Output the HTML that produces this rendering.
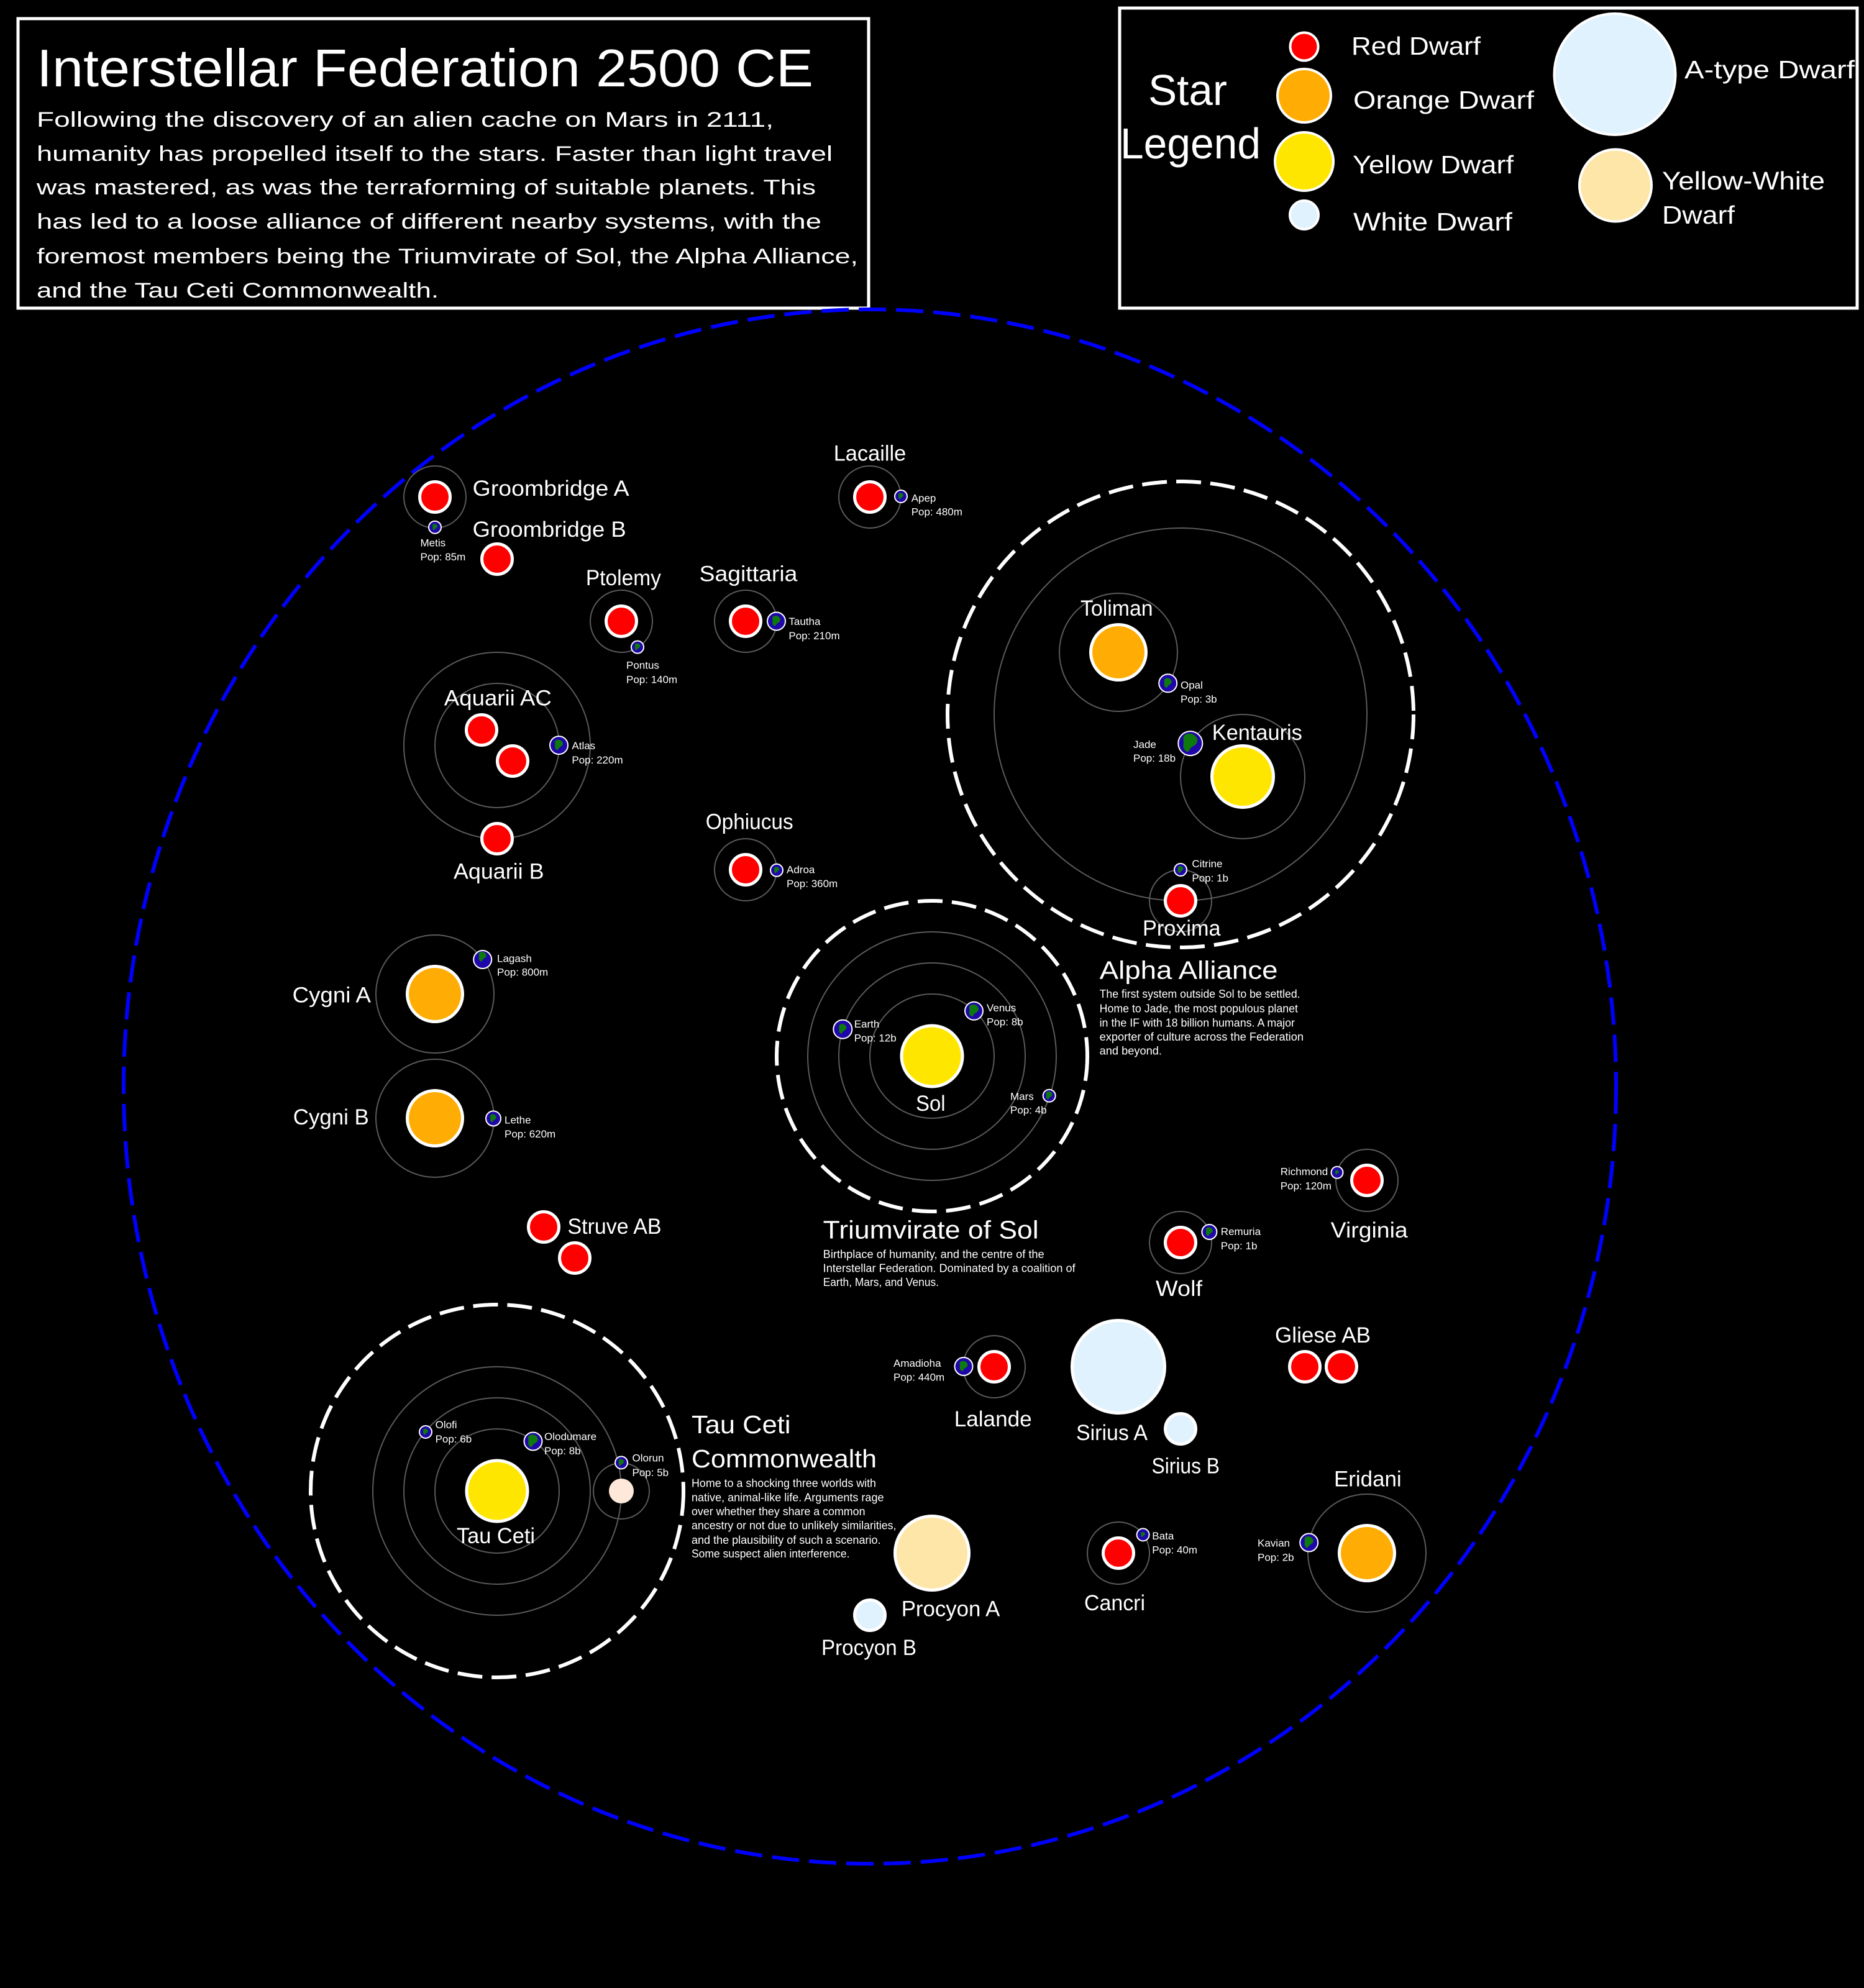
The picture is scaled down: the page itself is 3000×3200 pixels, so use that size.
<!DOCTYPE html>
<html>
<head>
<meta charset="utf-8">
<style>
  html, body { margin: 0; padding: 0; background: #000; }
  svg { display: block; }
  text { font-family: "Liberation Sans", "DejaVu Sans", sans-serif; fill: #fff; }
  .t { font-size: 35px; }
  .p { font-size: 17px; }
  .d { font-size: 18px; }
  .h { font-size: 41px; }
  .orb { fill: none; stroke: #5a5a5a; stroke-width: 2; }
  .st { stroke: #fff; stroke-width: 5; }
  .red { fill: #ff0000; }
  .org { fill: #ffad05; }
  .yel { fill: #ffe600; }
  .wht { fill: #e0f2fe; }
  .yw { fill: #fde6a8; }
  .pl { fill: #1f06a8; stroke: #fff; stroke-width: 2; }
  .gr { fill: #0c7a0c; }
</style>
</head>
<body>
<svg width="3000" height="3200" viewBox="0 0 3000 3200" xmlns="http://www.w3.org/2000/svg">
  <defs>
    <path id="blob" d="M-5,-9 C1,-12 8,-7 7,-2 C6,3 1,2 -1,7 C-3,11 -8,6 -7,1 C-6,-3 -9,-6 -5,-9 Z"/>
  </defs>
  <rect x="0" y="0" width="3000" height="3200" fill="#000"/>

  <!-- Title box -->
  <rect x="29" y="30" width="1369" height="466" fill="none" stroke="#fff" stroke-width="5"/>
  <text x="59" y="139" font-size="85" textLength="1250" lengthAdjust="spacingAndGlyphs">Interstellar Federation 2500 CE</text>
  <text x="59" y="204" font-size="34" textLength="1186" lengthAdjust="spacingAndGlyphs">Following the discovery of an alien cache on Mars in 2111,</text>
  <text x="59" y="259" font-size="34" textLength="1281" lengthAdjust="spacingAndGlyphs">humanity has propelled itself to the stars. Faster than light travel</text>
  <text x="59" y="313" font-size="34" textLength="1254" lengthAdjust="spacingAndGlyphs">was mastered, as was the terraforming of suitable planets. This</text>
  <text x="59" y="368" font-size="34" textLength="1263" lengthAdjust="spacingAndGlyphs">has led to a loose alliance of different nearby systems, with the</text>
  <text x="59" y="424" font-size="34" textLength="1322" lengthAdjust="spacingAndGlyphs">foremost members being the Triumvirate of Sol, the Alpha Alliance,</text>
  <text x="59" y="479" font-size="34" textLength="647" lengthAdjust="spacingAndGlyphs">and the Tau Ceti Commonwealth.</text>

  <!-- Legend box -->
  <rect x="1802" y="13" width="1187" height="483" fill="none" stroke="#fff" stroke-width="5"/>
  <text x="1848" y="169" font-size="70" textLength="127" lengthAdjust="spacingAndGlyphs">Star</text>
  <text x="1803" y="255" font-size="70" textLength="226" lengthAdjust="spacingAndGlyphs">Legend</text>
  <circle cx="2099" cy="75" r="22.5" class="red" stroke="#fff" stroke-width="4"/>
  <circle cx="2099" cy="154" r="43" class="org" stroke="#fff" stroke-width="4"/>
  <circle cx="2099" cy="260" r="47" class="yel" stroke="#fff" stroke-width="4"/>
  <circle cx="2099" cy="346" r="23" class="wht" stroke="#fff" stroke-width="4"/>
  <circle cx="2599" cy="119.5" r="97.5" class="wht" stroke="#fff" stroke-width="4"/>
  <circle cx="2600" cy="298.5" r="58" class="yw" stroke="#fff" stroke-width="4"/>
  <text x="2175" y="88" font-size="41" textLength="208" lengthAdjust="spacingAndGlyphs">Red Dwarf</text>
  <text x="2178" y="175" font-size="41" textLength="291" lengthAdjust="spacingAndGlyphs">Orange Dwarf</text>
  <text x="2177" y="279" font-size="41" textLength="259" lengthAdjust="spacingAndGlyphs">Yellow Dwarf</text>
  <text x="2178" y="371" font-size="41" textLength="256" lengthAdjust="spacingAndGlyphs">White Dwarf</text>
  <text x="2711" y="126" font-size="41" textLength="274" lengthAdjust="spacingAndGlyphs">A-type Dwarf</text>
  <text x="2675" y="305" font-size="41" textLength="262" lengthAdjust="spacingAndGlyphs">Yellow-White</text>
  <text x="2675" y="360" font-size="41" textLength="117" lengthAdjust="spacingAndGlyphs">Dwarf</text>

  <!-- Federation boundary -->
  <ellipse cx="1400" cy="1749" rx="1201" ry="1251" fill="none" stroke="#0000ff" stroke-width="6" stroke-dasharray="44 16"/>

  <!-- Alliance dashed circles -->
  <circle cx="1900" cy="1150" r="375" fill="none" stroke="#fff" stroke-width="6" stroke-dasharray="40 15"/>
  <circle cx="1500" cy="1700" r="250" fill="none" stroke="#fff" stroke-width="6" stroke-dasharray="40 15"/>
  <circle cx="800" cy="2400" r="300" fill="none" stroke="#fff" stroke-width="6" stroke-dasharray="40 15"/>

  <!-- Orbits -->
  <circle class="orb" cx="700" cy="800" r="50"/>
  <circle class="orb" cx="1400" cy="800" r="50"/>
  <circle class="orb" cx="1000" cy="1000" r="50"/>
  <circle class="orb" cx="1200" cy="1000" r="50"/>
  <circle class="orb" cx="800" cy="1200" r="100"/>
  <circle class="orb" cx="800" cy="1200" r="150"/>
  <circle class="orb" cx="1200" cy="1400" r="50"/>
  <circle class="orb" cx="1900" cy="1150" r="300"/>
  <circle class="orb" cx="1800" cy="1050" r="95"/>
  <circle class="orb" cx="2000" cy="1250" r="100"/>
  <circle class="orb" cx="1900" cy="1450" r="50"/>
  <circle class="orb" cx="1500" cy="1700" r="100"/>
  <circle class="orb" cx="1500" cy="1700" r="150"/>
  <circle class="orb" cx="1500" cy="1700" r="200"/>
  <circle class="orb" cx="700" cy="1600" r="95"/>
  <circle class="orb" cx="700" cy="1800" r="95"/>
  <circle class="orb" cx="800" cy="2400" r="100"/>
  <circle class="orb" cx="800" cy="2400" r="150"/>
  <circle class="orb" cx="800" cy="2400" r="200"/>
  <circle class="orb" cx="1000" cy="2400" r="45"/>
  <circle class="orb" cx="1900" cy="2000" r="50"/>
  <circle class="orb" cx="2200" cy="1900" r="50"/>
  <circle class="orb" cx="1600" cy="2200" r="50"/>
  <circle class="orb" cx="1800" cy="2500" r="50"/>
  <circle class="orb" cx="2200" cy="2500" r="95"/>

  <!-- Stars -->
  <circle class="st red" cx="700" cy="800" r="24.5"/>
  <circle class="st red" cx="800" cy="900" r="24.5"/>
  <circle class="st red" cx="1400" cy="800" r="24.5"/>
  <circle class="st red" cx="1000" cy="1000" r="24.5"/>
  <circle class="st red" cx="1200" cy="1000" r="24.5"/>
  <circle class="st red" cx="775" cy="1175" r="24.5"/>
  <circle class="st red" cx="825" cy="1225" r="24.5"/>
  <circle class="st red" cx="800" cy="1350" r="24.5"/>
  <circle class="st red" cx="1200" cy="1400" r="24.5"/>
  <circle class="st org" cx="1800" cy="1050" r="44.5"/>
  <circle class="st yel" cx="2000" cy="1250" r="49.5"/>
  <circle class="st red" cx="1900" cy="1450" r="24.5"/>
  <circle class="st yel" cx="1500" cy="1700" r="49"/>
  <circle class="st org" cx="700" cy="1600" r="44.5"/>
  <circle class="st org" cx="700" cy="1800" r="44.5"/>
  <circle class="st red" cx="875" cy="1975" r="24.5"/>
  <circle class="st red" cx="925" cy="2025" r="24.5"/>
  <circle class="st yel" cx="800" cy="2400" r="49"/>
  <circle cx="1000" cy="2400" r="20" fill="#fde8da"/>
  <circle class="st red" cx="1900" cy="2000" r="24.5"/>
  <circle class="st red" cx="2200" cy="1900" r="24.5"/>
  <circle class="st red" cx="1600" cy="2200" r="24.5"/>
  <circle class="st wht" cx="1800" cy="2200" r="74.5"/>
  <circle class="st wht" cx="1900" cy="2300" r="24.5"/>
  <circle class="st red" cx="2100" cy="2200" r="24.5"/>
  <circle class="st red" cx="2159" cy="2200" r="24.5"/>
  <circle class="st yw" cx="1500" cy="2500" r="59.5"/>
  <circle class="st wht" cx="1400" cy="2600" r="24.5"/>
  <circle class="st red" cx="1800" cy="2500" r="24.5"/>
  <circle class="st org" cx="2200" cy="2500" r="44.5"/>

  <!-- Planets -->
  <g transform="translate(700,848.7)"><circle class="pl" r="10"/><use href="#blob" class="gr" transform="scale(0.55)"/></g>
  <g transform="translate(1450,799)"><circle class="pl" r="10"/><use href="#blob" class="gr" transform="scale(0.55)"/></g>
  <g transform="translate(1026,1041.6)"><circle class="pl" r="10"/><use href="#blob" class="gr" transform="scale(0.6)"/></g>
  <g transform="translate(1249.5,1000)"><circle class="pl" r="14.5"/><use href="#blob" class="gr" transform="scale(0.9)"/></g>
  <g transform="translate(899.5,1199.6)"><circle class="pl" r="14.5"/><use href="#blob" class="gr" transform="scale(0.9)"/></g>
  <g transform="translate(1250,1400.8)"><circle class="pl" r="10"/><use href="#blob" class="gr" transform="scale(0.55)"/></g>
  <g transform="translate(1879.7,1099.8)"><circle class="pl" r="14.5"/><use href="#blob" class="gr" transform="scale(0.85)"/></g>
  <g transform="translate(1915.8,1196.6)"><circle class="pl" r="19.5"/><use href="#blob" class="gr" transform="scale(1.6)"/></g>
  <g transform="translate(1900,1400)"><circle class="pl" r="10"/><use href="#blob" class="gr" transform="scale(0.6)"/></g>
  <g transform="translate(776.7,1544.5)"><circle class="pl" r="14.5"/><use href="#blob" class="gr" transform="translate(0,-4) scale(0.85)"/></g>
  <g transform="translate(794,1800.4)"><circle class="pl" r="12"/><use href="#blob" class="gr" transform="scale(0.7)"/></g>
  <g transform="translate(1356.3,1656.7)"><circle class="pl" r="15"/><use href="#blob" class="gr" transform="scale(0.85)"/></g>
  <g transform="translate(1567.5,1627.3)"><circle class="pl" r="14.5"/><use href="#blob" class="gr" transform="scale(1.05)"/></g>
  <g transform="translate(1688.7,1763.7)"><circle class="pl" r="10"/><use href="#blob" class="gr" transform="scale(0.7)"/></g>
  <g transform="translate(2152,1887.3)"><circle class="pl" r="9.5"/><use href="#blob" class="gr" transform="scale(0.4)"/></g>
  <g transform="translate(1946.4,1983)"><circle class="pl" r="12"/><use href="#blob" class="gr" transform="scale(0.75)"/></g>
  <g transform="translate(1551,2199.5)"><circle class="pl" r="14.5"/><use href="#blob" class="gr" transform="scale(0.9)"/></g>
  <g transform="translate(1839.6,2470.4)"><circle class="pl" r="10"/><use href="#blob" class="gr" transform="scale(0.45)"/></g>
  <g transform="translate(2106.7,2483)"><circle class="pl" r="14.5"/><use href="#blob" class="gr" transform="scale(1.0)"/></g>
  <g transform="translate(685,2305)"><circle class="pl" r="10"/><use href="#blob" class="gr" transform="scale(0.55)"/></g>
  <g transform="translate(858,2320)"><circle class="pl" r="14.5"/><use href="#blob" class="gr" transform="scale(1.1)"/></g>
  <g transform="translate(1000,2354.4)"><circle class="pl" r="10"/><use href="#blob" class="gr" transform="scale(0.6)"/></g>

  <!-- Star labels -->
  <text class="t" x="760.7" y="797.8" textLength="252" lengthAdjust="spacingAndGlyphs">Groombridge A</text>
  <text class="t" x="760.7" y="864.2" textLength="247" lengthAdjust="spacingAndGlyphs">Groombridge B</text>
  <text class="t" x="1341.7" y="741.7" textLength="116.6" lengthAdjust="spacingAndGlyphs">Lacaille</text>
  <text class="t" x="942.9" y="941.8" textLength="121" lengthAdjust="spacingAndGlyphs">Ptolemy</text>
  <text class="t" x="1125.5" y="935.5" textLength="158" lengthAdjust="spacingAndGlyphs">Sagittaria</text>
  <text class="t" x="714.8" y="1135.6" textLength="173" lengthAdjust="spacingAndGlyphs">Aquarii AC</text>
  <text class="t" x="730" y="1414.4" textLength="145.5" lengthAdjust="spacingAndGlyphs">Aquarii B</text>
  <text class="t" x="1135.7" y="1334.4" textLength="141" lengthAdjust="spacingAndGlyphs">Ophiucus</text>
  <text class="t" x="1739" y="991" textLength="116.6" lengthAdjust="spacingAndGlyphs">Toliman</text>
  <text class="t" x="1950.8" y="1190.8" textLength="145" lengthAdjust="spacingAndGlyphs">Kentauris</text>
  <text class="t" x="1839" y="1506" textLength="125.5" lengthAdjust="spacingAndGlyphs">Proxima</text>
  <text class="t" x="1474" y="1788" textLength="47.6" lengthAdjust="spacingAndGlyphs">Sol</text>
  <text class="t" x="470.6" y="1613.5" textLength="126.4" lengthAdjust="spacingAndGlyphs">Cygni A</text>
  <text class="t" x="471.8" y="1809.8" textLength="122" lengthAdjust="spacingAndGlyphs">Cygni B</text>
  <text class="t" x="913.5" y="1986" textLength="151" lengthAdjust="spacingAndGlyphs">Struve AB</text>
  <text class="t" x="735" y="2484" textLength="126" lengthAdjust="spacingAndGlyphs">Tau Ceti</text>
  <text class="t" x="1535.7" y="2296" textLength="125" lengthAdjust="spacingAndGlyphs">Lalande</text>
  <text class="t" x="1732" y="2318" textLength="115" lengthAdjust="spacingAndGlyphs">Sirius A</text>
  <text class="t" x="1853.5" y="2371.7" textLength="109.5" lengthAdjust="spacingAndGlyphs">Sirius B</text>
  <text class="t" x="1450.7" y="2601.3" textLength="158.7" lengthAdjust="spacingAndGlyphs">Procyon A</text>
  <text class="t" x="1322" y="2664" textLength="153" lengthAdjust="spacingAndGlyphs">Procyon B</text>
  <text class="t" x="1745" y="2591.8" textLength="98" lengthAdjust="spacingAndGlyphs">Cancri</text>
  <text class="t" x="1860" y="2086" textLength="75" lengthAdjust="spacingAndGlyphs">Wolf</text>
  <text class="t" x="2141.7" y="1992" textLength="124" lengthAdjust="spacingAndGlyphs">Virginia</text>
  <text class="t" x="2052" y="2160.8" textLength="154" lengthAdjust="spacingAndGlyphs">Gliese AB</text>
  <text class="t" x="2147" y="2392.4" textLength="108.7" lengthAdjust="spacingAndGlyphs">Eridani</text>

  <!-- Planet labels -->
  <text class="p" x="676.5" y="879.7">Metis</text><text class="p" x="676.5" y="902">Pop: 85m</text>
  <text class="p" x="1466.7" y="807.3">Apep</text><text class="p" x="1466.7" y="829.3">Pop: 480m</text>
  <text class="p" x="1008" y="1076.5">Pontus</text><text class="p" x="1008" y="1099.3">Pop: 140m</text>
  <text class="p" x="1269.4" y="1006">Tautha</text><text class="p" x="1269.4" y="1029">Pop: 210m</text>
  <text class="p" x="920.4" y="1206">Atlas</text><text class="p" x="920.4" y="1229.2">Pop: 220m</text>
  <text class="p" x="1266" y="1405.6">Adroa</text><text class="p" x="1266" y="1428">Pop: 360m</text>
  <text class="p" x="1900" y="1108.7">Opal</text><text class="p" x="1900" y="1131">Pop: 3b</text>
  <text class="p" x="1824" y="1204">Jade</text><text class="p" x="1824" y="1226">Pop: 18b</text>
  <text class="p" x="1918.4" y="1396">Citrine</text><text class="p" x="1918.4" y="1419">Pop: 1b</text>
  <text class="p" x="800" y="1548.6">Lagash</text><text class="p" x="800" y="1570.6">Pop: 800m</text>
  <text class="p" x="812" y="1808.6">Lethe</text><text class="p" x="812" y="1831">Pop: 620m</text>
  <text class="p" x="1374.7" y="1653.8">Earth</text><text class="p" x="1374.7" y="1676.5">Pop: 12b</text>
  <text class="p" x="1588" y="1628">Venus</text><text class="p" x="1588" y="1650.4">Pop: 8b</text>
  <text class="p" x="1626" y="1770.4">Mars</text><text class="p" x="1626" y="1792.7">Pop: 4b</text>
  <text class="p" x="2060.7" y="1891.4">Richmond</text><text class="p" x="2060.7" y="1914.4">Pop: 120m</text>
  <text class="p" x="1964.8" y="1988">Remuria</text><text class="p" x="1964.8" y="2011">Pop: 1b</text>
  <text class="p" x="1438" y="2200">Amadioha</text><text class="p" x="1438" y="2222.5">Pop: 440m</text>
  <text class="p" x="1854.3" y="2478">Bata</text><text class="p" x="1854.3" y="2500.7">Pop: 40m</text>
  <text class="p" x="2024" y="2489.4">Kavian</text><text class="p" x="2024" y="2512.3">Pop: 2b</text>
  <text class="p" x="700.6" y="2299">Olofi</text><text class="p" x="700.6" y="2322">Pop: 6b</text>
  <text class="p" x="876" y="2317.8">Olodumare</text><text class="p" x="876" y="2341">Pop: 8b</text>
  <text class="p" x="1017.5" y="2352.7">Olorun</text><text class="p" x="1017.5" y="2376">Pop: 5b</text>

  <!-- Alliance headings and descriptions -->
  <text class="h" x="1769.6" y="1575.5" textLength="287" lengthAdjust="spacingAndGlyphs">Alpha Alliance</text>
  <text class="d" x="1769.6" y="1606" textLength="323" lengthAdjust="spacingAndGlyphs">The first system outside Sol to be settled.</text>
  <text class="d" x="1769.6" y="1629.4" textLength="319.4" lengthAdjust="spacingAndGlyphs">Home to Jade, the most populous planet</text>
  <text class="d" x="1769.6" y="1652.5" textLength="314.4" lengthAdjust="spacingAndGlyphs">in the IF with 18 billion humans. A major</text>
  <text class="d" x="1769.6" y="1674.8" textLength="328.4" lengthAdjust="spacingAndGlyphs">exporter of culture across the Federation</text>
  <text class="d" x="1769.6" y="1697.6" textLength="100.4" lengthAdjust="spacingAndGlyphs">and beyond.</text>

  <text class="h" x="1324.7" y="1993.5" textLength="347" lengthAdjust="spacingAndGlyphs">Triumvirate of Sol</text>
  <text class="d" x="1324.7" y="2025" textLength="356" lengthAdjust="spacingAndGlyphs">Birthplace of humanity, and the centre of the</text>
  <text class="d" x="1324.7" y="2047.3" textLength="406" lengthAdjust="spacingAndGlyphs">Interstellar Federation. Dominated by a coalition of</text>
  <text class="d" x="1324.7" y="2070" textLength="186.3" lengthAdjust="spacingAndGlyphs">Earth, Mars, and Venus.</text>

  <text class="h" x="1113" y="2307" textLength="159.5" lengthAdjust="spacingAndGlyphs">Tau Ceti</text>
  <text class="h" x="1113" y="2362" textLength="298" lengthAdjust="spacingAndGlyphs">Commonwealth</text>
  <text class="d" x="1113" y="2393.5" textLength="297" lengthAdjust="spacingAndGlyphs">Home to a shocking three worlds with</text>
  <text class="d" x="1113" y="2416.7" textLength="309.5" lengthAdjust="spacingAndGlyphs">native, animal-like life. Arguments rage</text>
  <text class="d" x="1113" y="2439" textLength="279.5" lengthAdjust="spacingAndGlyphs">over whether they share a common</text>
  <text class="d" x="1113" y="2461.7" textLength="329.5" lengthAdjust="spacingAndGlyphs">ancestry or not due to unlikely similarities,</text>
  <text class="d" x="1113" y="2485" textLength="304.5" lengthAdjust="spacingAndGlyphs">and the plausibility of such a scenario.</text>
  <text class="d" x="1113" y="2507" textLength="254.5" lengthAdjust="spacingAndGlyphs">Some suspect alien interference.</text>
</svg>
</body>
</html>
